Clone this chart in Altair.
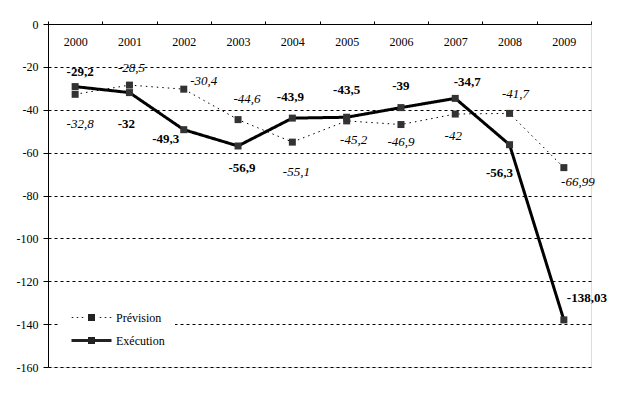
import altair as alt
import pandas as pd

years = ["2000", "2001", "2002", "2003", "2004", "2005", "2006", "2007", "2008", "2009"]
prevision = [-32.8, -28.5, -30.4, -44.6, -55.1, -45.2, -46.9, -42, -41.7, -66.99]
execution = [-29.2, -32, -49.3, -56.9, -43.9, -43.5, -39, -34.7, -56.3, -138.03]
series_names = ["Prévision", "Exécution"]
y_ticks = [0, -20, -40, -60, -80, -100, -120, -140, -160]

# label offsets (pixels) relative to each point
prev_off = [(5, 30), (2, -17), (20, -8), (9, -21), (4, 30), (7, 19), (0, 17), (-2, 22), (6, -19), (14, 14)]
exec_off = [(5, -15), (-3, 31), (-18, 9), (4, 22), (-2, -21), (0, -27), (0, -22), (12, -16), (-10, 28), (23, -22)]

def lab(v):
    return ("%g" % v).replace(".", ",")

rows = []
for y, p, e in zip(years, prevision, execution):
    rows.append({"year": y, "series": "Prévision", "value": p, "label": lab(p)})
    rows.append({"year": y, "series": "Exécution", "value": e, "label": lab(e)})
df = pd.DataFrame(rows)

FONT = "Liberation Serif"

x_enc = alt.X("year:O", scale=alt.Scale(type="band", paddingInner=0, paddingOuter=0),
              axis=alt.Axis(orient="top", title=None, labelAngle=0, tickBand="extent",
                            tickSize=3, labelPadding=-27, domainColor="black", tickColor="black",
                            labelColor="black", labelFont=FONT, labelFontSize=12, grid=False))
y_enc = alt.Y("value:Q", scale=alt.Scale(domain=[-160, 0], nice=False, zero=False),
              axis=alt.Axis(title=None, values=y_ticks, grid=True, gridDash=[3, 3], gridColor="black",
                            gridWidth=1, gridOpacity=1, domainColor="black", tickColor="black",
                            tickSize=5, labelPadding=5, labelColor="black", labelFont=FONT,
                            labelFontSize=12, labelExpr="'' + datum.value"))

base = alt.Chart(df)

dash_scale = alt.Scale(domain=series_names, range=[[1.5, 4], [1, 0]])
width_scale = alt.Scale(domain=series_names, range=[1, 3])

# legend symbols (unit box -1..1 = 40 px): line + square, drawn as filled shapes
SQ = "M-0.175,-0.175H0.175V0.175H-0.175Z"
DOTS = "".join("M%.3f,-0.03H%.3fV0.03H%.3fZ" % (c - 0.04, c + 0.04, c - 0.04)
               for c in (-0.95, -0.7, -0.45, 0.45, 0.7, 0.95))
SYM_P = DOTS + SQ
SYM_E = "M-1,-0.075H1V0.075H-1Z" + SQ

leg = alt.Legend(title=None, orient="none", legendX=12, legendY=272,
                 symbolSize=1600, symbolFillColor="#222222", symbolStrokeColor="transparent",
                 labelFont=FONT, labelFontSize=12, labelColor="black", labelOffset=3,
                 fillColor="white", padding=10, rowPadding=0, clipHeight=23)

legend_layer = base.transform_filter("false").mark_point(
    filled=True, color="#222222", opacity=1, size=1600).encode(
    x=x_enc, y=y_enc,
    shape=alt.Shape("series:N", scale=alt.Scale(domain=series_names, range=[SYM_P, SYM_E]), legend=leg),
)

lines = base.mark_line(color="black").encode(
    x=x_enc, y=y_enc,
    strokeDash=alt.StrokeDash("series:N", scale=dash_scale, legend=leg),
    strokeWidth=alt.StrokeWidth("series:N", scale=width_scale, legend=leg),
    detail="series:N",
)

points = base.mark_square(size=49, color="#333333", opacity=1, filled=True).encode(
    x=x_enc, y=y_enc, detail="series:N")

layers = [legend_layer, lines, points]
for s, offs, style in [("Prévision", prev_off, dict(fontStyle="italic", fontWeight="normal")),
                       ("Exécution", exec_off, dict(fontStyle="normal", fontWeight="bold"))]:
    for yr, (dx, dy) in zip(years, offs):
        layers.append(
            base.transform_filter((alt.datum.series == s) & (alt.datum.year == yr))
            .mark_text(dx=dx, dy=dy, font=FONT, fontSize=13, color="black", align="center",
                       baseline="middle", **style)
            .encode(x=x_enc, y=y_enc, text="label:N")
        )

chart = alt.layer(*layers).properties(
    width=543, height=343,
    autosize=alt.AutoSizeParams(type="none"),
    padding={"left": 40, "top": 16, "right": 18, "bottom": 10},
).configure_view(stroke=None).configure(background="white")

chart.save("out.html", embed_options={"renderer": "svg", "actions": False})
